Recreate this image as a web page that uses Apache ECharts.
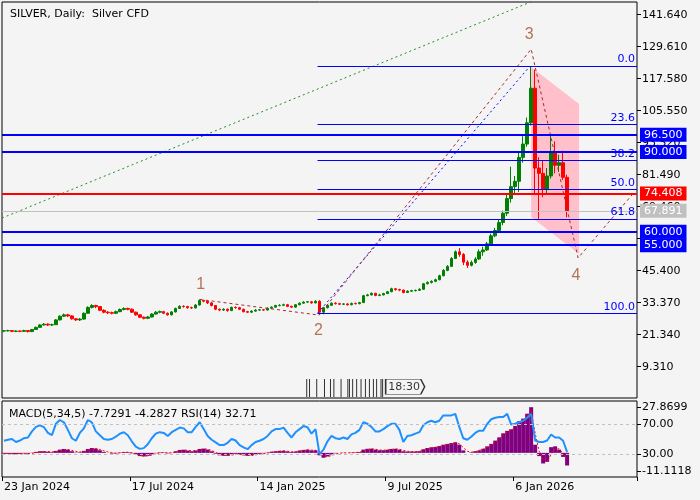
<!DOCTYPE html>
<html><head><meta charset="utf-8">
<script src="https://cdn.jsdelivr.net/npm/echarts@6/dist/echarts.min.js"></script>
<style>html,body{margin:0;padding:0;background:#f4f4f4;}#c{width:700px;height:500px;}</style>
</head><body><div id="c"></div>
<script>
// ---------- data ----------
const tickLabels = ['23 Jan 2024','17 Jul 2024','14 Jan 2025','9 Jul 2025','6 Jan 2026'];
const slotCount = 159; // 4-day bars incl. empty right margin
const yTickValues = [9.31,21.34,33.37,45.40,57.43,69.46,81.49,93.52,105.55,117.58,129.61,141.64];
const macdTicks = [-11.1118, 27.8699];
const rsiTicks = [30, 70];

const opens = [22.7,22.8,22.9,22.6,22.7,22.6,22.9,22.5,23.3,24.1,
25.0,25.3,25.0,25.1,26.9,28.3,28.8,28.4,27.3,26.9,
27.2,29.4,31.6,32.3,31.9,30.5,29.8,29.6,29.4,30.0,
30.8,31.2,30.9,29.8,28.8,27.9,27.5,28.0,29.1,29.8,
30.0,29.4,28.8,29.9,31.2,32.0,31.9,31.5,31.4,32.5,
34.2,33.9,33.3,32.3,30.9,30.6,30.9,30.4,31.6,31.5,
30.9,30.0,29.8,30.2,30.6,30.7,30.6,31.3,31.7,32.3,
32.4,32.6,32.0,31.7,32.6,33.2,33.6,33.7,33.3,33.9,
29.8,31.5,32.4,33.2,33.0,32.8,32.9,32.6,33.1,33.0,
33.4,36.0,36.3,36.9,36.1,36.3,36.8,37.5,38.6,38.3,
38.1,37.2,37.7,37.9,38.0,38.4,40.5,41.0,41.4,42.0,
43.5,45.5,47.0,50.0,52.5,51.5,48.6,47.4,48.5,49.8,
52.5,53.2,55.5,58.5,60.5,63.5,67.0,72.5,77.0,79.0,
88.0,93.0,101.0,114.0,84.0,82.0,76.0,81.0,90.0,85.0,
86.0,80.5];
const closes = [22.8,22.9,22.6,22.7,22.6,22.9,22.5,23.3,24.1,25.0,
25.3,25.0,25.1,26.9,28.3,28.8,28.4,27.3,26.9,27.2,
29.4,31.6,32.3,31.9,30.5,29.8,29.6,29.4,30.0,30.8,
31.2,30.9,29.8,28.8,27.9,27.5,28.0,29.1,29.8,30.0,
29.4,28.8,29.9,31.2,32.0,31.9,31.5,31.4,32.5,34.2,
33.9,33.3,32.3,30.9,30.6,30.9,30.4,31.6,31.5,30.9,
30.0,29.8,30.2,30.6,30.7,30.6,31.3,31.7,32.3,32.4,
32.6,32.0,31.7,32.6,33.2,33.6,33.7,33.3,33.9,29.8,
31.5,32.4,33.2,33.0,32.8,32.9,32.6,33.1,33.0,33.4,
36.0,36.3,36.9,36.1,36.3,36.8,37.5,38.6,38.3,38.1,
37.2,37.7,37.9,38.0,38.4,40.5,41.0,41.4,42.0,43.5,
45.5,47.0,50.0,52.5,51.5,48.6,47.4,48.5,49.8,52.5,
53.2,55.5,58.5,60.5,63.5,67.0,72.5,77.0,79.0,88.0,
93.0,101.0,114.0,84.0,82.0,76.0,81.0,90.0,85.0,86.0,
80.5,67.9];
const lows = [22.3,22.5,22.3,22.3,22.3,22.4,22.2,22.3,23.1,23.9,
24.8,24.6,24.6,25.0,26.7,28.0,28.0,27.0,26.5,26.5,
27.0,29.2,31.2,31.3,30.2,29.4,29.1,29.0,29.1,29.8,
30.5,30.5,29.5,28.5,27.6,27.1,27.2,27.8,28.9,29.4,
29.1,28.5,28.6,29.7,31.0,31.5,31.1,31.0,31.2,32.3,
33.5,32.9,32.0,30.6,30.2,30.3,30.0,30.2,31.1,30.6,
29.7,29.5,29.5,30.0,30.3,30.3,30.4,31.0,31.5,32.0,
32.1,31.7,31.4,31.5,32.4,33.0,33.3,33.0,33.1,29.5,
29.0,31.2,32.2,32.7,32.5,32.5,32.3,32.4,32.7,32.8,
33.3,35.8,36.1,35.8,35.8,36.1,36.6,37.3,37.9,37.7,
36.9,37.0,37.4,37.6,37.8,38.2,40.2,40.6,41.1,41.8,
43.3,45.2,46.8,49.8,50.6,47.5,46.4,47.0,48.0,49.5,
51.0,52.8,55.0,58.0,60.0,62.5,66.0,71.0,74.5,75.0,
86.0,92.0,100.0,74.0,64.5,73.0,74.5,80.0,82.0,82.5,
79.5,65.5];
const highs = [23.1,23.2,23.1,23.0,23.0,23.2,23.1,23.5,24.4,25.3,
25.7,25.6,25.5,27.2,28.6,29.3,29.2,28.7,27.6,27.6,
29.7,32.0,32.8,32.6,32.1,30.9,30.2,30.0,30.4,31.2,
31.6,31.5,31.2,30.0,29.1,28.2,28.4,29.4,30.2,30.4,
30.3,29.7,30.2,31.5,32.4,32.4,32.2,31.9,32.8,34.6,
34.5,34.2,33.6,32.5,31.2,31.3,31.2,31.9,32.0,31.8,
31.1,30.3,30.5,30.9,31.0,31.0,31.6,32.0,32.6,32.8,
33.0,32.9,32.2,32.9,33.5,33.9,34.0,34.0,34.3,34.3,
31.8,32.7,33.5,33.5,33.3,33.2,33.2,33.4,33.4,33.7,
36.3,36.7,37.2,37.1,36.7,37.1,37.8,39.0,38.9,38.6,
38.3,38.0,38.2,38.3,38.8,40.8,41.4,41.8,42.4,43.9,
46.0,47.5,50.5,53.0,53.9,52.0,49.3,49.2,50.5,53.4,
54.4,56.2,59.3,61.5,64.5,68.0,74.0,84.5,81.0,90.0,
96.0,103.0,122.3,121.0,88.0,87.0,84.0,96.4,94.0,89.0,
90.5,81.5];

const rsiValues = [47.7,49,50,46,48,51,52,60,66,68,
65.5,58,55,70,75,72,62,51,47.7,58,
64,75,72,60,55,50,49,50,53,57,
58.8,55,47,40,37,38,43,51,57,59,
58,54,59,62,65,64,59,59,66,72,
63,54,49,45.5,42,42,45,50,48,42,
39,36.6,42,46,47.7,50,54,60,63,63,
65,58,52,58.8,63,67,65.5,57,63,30,
36,47,54,51,50,52,50,56,58,62,
72,70,66,60,60,63,67,70,70,62,
46,54,55,57,59,68,72,74,72,74,
81,81,81,83,66,51,49,53,58,61,
61,70,76,78,79,79,83,69,70,72,
74,78,83,48,46,46,48,56,52,52,
47.7,32.71];
const macdHist = [-0.5,-0.6,-0.6,-0.7,-0.6,-0.4,-0.5,0.1,0.6,1.0,
1.0,0.7,0.4,1.2,2.0,2.4,2.0,1.0,0.2,0.3,
1.2,2.4,3.0,2.6,1.6,0.6,0.0,-0.4,-0.3,0.2,
0.5,0.4,-0.3,-1.2,-2.0,-2.2,-1.8,-1.0,-0.2,0.3,
0.2,-0.3,0.1,1.0,1.8,1.9,1.4,1.0,1.5,2.4,
2.6,2.0,1.0,-0.5,-1.5,-1.8,-1.8,-1.0,-0.6,-0.9,
-1.5,-1.8,-1.5,-1.0,-0.6,-0.3,0.2,0.7,1.0,1.2,
1.3,0.9,0.5,0.8,1.4,1.8,2.0,1.5,1.6,-1.5,
-3.0,-2.2,-1.0,-0.3,0.0,0.1,0.0,0.2,0.3,0.5,
2.0,2.5,2.6,2.0,1.6,1.6,1.9,2.4,2.5,2.0,
1.0,0.8,0.8,0.8,1.0,2.2,3.0,3.4,3.6,4.2,
5.0,5.5,6.0,6.5,5.0,1.5,0.0,0.3,1.0,1.5,
2.5,4.0,5.5,7.5,9.5,12.0,13.5,14.5,16.5,19.5,
21.0,24.0,28.0,5.0,-2.0,-6.5,-5.5,3.5,4.0,2.0,
-2.5,-7.7291];
const macdSignal = [-0.4,-0.5,-0.6,-0.6,-0.6,-0.5,-0.5,-0.3,0.1,0.5,
0.8,0.8,0.6,0.8,1.3,1.9,2.0,1.5,0.9,0.5,
0.8,1.6,2.4,2.6,2.1,1.3,0.6,0.1,-0.2,0.0,
0.3,0.4,0.1,-0.6,-1.4,-1.9,-1.9,-1.4,-0.6,0.0,
0.2,0.0,0.0,0.5,1.3,1.7,1.6,1.3,1.3,1.9,
2.4,2.2,1.5,0.3,-0.8,-1.5,-1.7,-1.4,-0.9,-0.8,
-1.2,-1.6,-1.6,-1.2,-0.8,-0.5,-0.1,0.4,0.8,1.0,
1.2,1.0,0.7,0.7,1.1,1.5,1.8,1.7,1.6,0.2,
-2.0,-2.4,-1.6,-0.7,-0.2,0.0,0.0,0.1,0.2,0.4,
1.2,2.0,2.4,2.2,1.8,1.6,1.8,2.1,2.4,2.2,
1.5,1.0,0.8,0.8,0.9,1.6,2.5,3.1,3.4,3.9,
4.5,5.1,5.6,6.2,5.6,3.3,1.0,0.4,0.7,1.6,
2.3,3.4,4.8,6.5,8.5,10.8,12.8,14.0,15.5,18.0,
20.0,22.5,26.0,12.0,1.0,-4.0,-5.5,-1.0,2.5,2.5,
-0.5,-4.2827];

// horizontal levels
const levelValues = [96.5, 90.0, 74.408, 67.891, 60.0, 55.0];
// fibonacci retracement
const fibLabels = ['0.0','23.6','38.2','50.0','61.8','100.0'];
const fibPrices = [122.35, 100.41, 86.84, 75.86, 64.89, 29.38];
const fibStartSlot = 78.5;
const fibTrend = [[78.5, 29.38],[131.75, 122.35]];
// elliott wave path and labels
const wavePath = [[49, 34.6],[78.9, 28.7],[132, 128.7],[143.75, 50.2],[158, 75.2]];
const waveLabels = ['1','2','3','4'];
const waveLabelPos = [[49.25, 40.0],[78.75, 22.7],[131.5, 134.0],[143.2, 43.5]];
// green trend line
const greenTrend = [[-0.5, 65.2],[132.5, 146.8]];
// pink channel
const channelCorners = [[132, 122.0],[144, 108.1],[144, 51.7],[132, 65.6]];
// event markers
const eventSlots = [75.8,76.5,78.3,80.25,81.75,82.6,84.4,86.1,86.5,87.3,88.3,89.4,90.5,91.5,92.5,93.3,94.4,94.8];
const eventTime = '18:30';
const eventTimeSlot = 100.45;

// ---------- build ----------
const FONT = 'DejaVu Sans';
const slots = Array.from({length: slotCount}, (_, i) => String(i));
const candleData = closes.map((c, i) => [opens[i], c, lows[i], highs[i]]);
const levelColors = ['#0000ff','#0000ff','#ff0000','#c0c0c0','#0000ff','#0000ff'];
const levelWidths = [2,2,2,1,2,2];
const fibLine = {color: '#0000ff', width: 1, type: 'solid', opacity: 1};

const chart = echarts.init(document.getElementById('c'), null, {renderer: 'canvas'});
const txt = {fontFamily: FONT, fontSize: 11, color: '#000'};
const noLine = {show: false, onZero: false};

chart.setOption({
  animation: false,
  backgroundColor: '#f4f4f4',
  textStyle: {fontFamily: FONT},
  title: [
    {text: 'SILVER, Daily:  Silver CFD', left: 5, top: 4, textStyle: Object.assign({fontWeight: 'normal'}, txt)},
    {text: 'MACD(5,34,5) -7.7291 -4.2827 RSI(14) 32.71', left: 4, top: 404, textStyle: Object.assign({fontWeight: 'normal'}, txt)}
  ],
  grid: [
    {left: 2, top: 2, width: 635, height: 396, show: true, borderColor: '#000', borderWidth: 1, backgroundColor: '#f4f4f4'},
    {left: 2, top: 401, width: 635, height: 76, show: true, borderColor: '#000', borderWidth: 1, backgroundColor: '#f4f4f4'}
  ],
  xAxis: [
    {type: 'category', gridIndex: 0, data: slots, show: false, boundaryGap: true, axisLine: noLine},
    {type: 'category', gridIndex: 1, data: slots, boundaryGap: true,
      axisLine: noLine,
      axisTick: {show: true, interval: 31, length: 4, lineStyle: {color: '#000'}},
      axisLabel: Object.assign({interval: 31, align: 'left', margin: 5,
        formatter: (v, i) => tickLabels[i / 32] || ''}, txt),
      splitLine: {show: false}},
    {type: 'value', gridIndex: 0, min: -0.5, max: slotCount - 0.5, show: false, axisLine: noLine, splitLine: {show: false}}
  ],
  yAxis: [
    {type: 'value', gridIndex: 0, position: 'right', min: -2.46, max: 146.41, scale: true,
      axisLine: noLine,
      axisTick: {show: true, length: 4, customValues: yTickValues, lineStyle: {color: '#000'}},
      axisLabel: Object.assign({customValues: yTickValues, margin: 5, formatter: v => v.toFixed(3)}, txt),
      splitLine: {show: false}},
    {type: 'value', gridIndex: 1, position: 'right', min: -14.8, max: 31.8, scale: true,
      axisLine: noLine,
      axisTick: {show: true, length: 4, customValues: macdTicks, lineStyle: {color: '#000'}},
      axisLabel: Object.assign({customValues: macdTicks, margin: 5, formatter: v => v.toFixed(4)}, txt),
      splitLine: {show: false}},
    {type: 'value', gridIndex: 1, position: 'right', min: 0, max: 100,
      axisLine: noLine,
      axisTick: {show: true, length: 4, customValues: rsiTicks, lineStyle: {color: '#000'}},
      axisLabel: Object.assign({customValues: rsiTicks, margin: 5, formatter: v => v.toFixed(2)}, txt),
      splitLine: {show: false}}
  ],
  series: [
    {type: 'custom', xAxisIndex: 2, yAxisIndex: 0, z: 1, silent: true, data: channelCorners,
      renderItem: (params, api) => {
        if (params.dataIndex !== 0) return null;
        return {type: 'polygon', shape: {points: channelCorners.map(p => api.coord(p))}, style: {fill: '#ffc0cb'}};
      }},
    {type: 'line', xAxisIndex: 2, yAxisIndex: 0, data: greenTrend, symbol: 'none', silent: true, z: 2,
      lineStyle: {color: '#1f8f1f', width: 1, type: [2, 3]}},
    {type: 'candlestick', xAxisIndex: 0, yAxisIndex: 0, data: candleData, barWidth: 3, z: 3,
      itemStyle: {color: '#008000', color0: '#ff0000', borderColor: '#008000', borderColor0: '#ff0000', borderWidth: 1},
      markLine: {silent: true, symbol: ['none', 'none'], animation: false,
        data: levelValues.map((v, i) => ({
          name: v.toFixed(3),
          yAxis: v,
          lineStyle: {color: levelColors[i], width: levelWidths[i], type: 'solid'},
          label: {show: true, position: 'end', distance: 3, formatter: '{b}',
            backgroundColor: levelColors[i], color: '#fff', fontFamily: FONT, fontSize: 11,
            padding: [2, 4, 1, 4], lineHeight: 11}
        }))}},
    {type: 'line', xAxisIndex: 2, yAxisIndex: 0, data: fibTrend, symbol: 'none', silent: true, z: 4,
      itemStyle: {color: '#0000ff'},
      lineStyle: {color: '#0000ff', width: 1, type: [2, 3]},
      markLine: {silent: true, symbol: ['none', 'none'], animation: false,
        lineStyle: fibLine,
        data: fibPrices.map((p, i) => [
          {name: fibLabels[i], coord: [fibStartSlot, p], lineStyle: fibLine,
            label: {show: true, position: 'insideEndTop', distance: [2, 1], formatter: '{b}',
              color: '#0000ff', fontFamily: FONT, fontSize: 11}},
          {coord: [slotCount - 0.5, p], lineStyle: fibLine}
        ])}},
    {type: 'line', xAxisIndex: 2, yAxisIndex: 0, data: wavePath, symbol: 'none', silent: true, z: 4,
      lineStyle: {color: '#a52a2a', width: 1, type: [3, 3]}},
    {type: 'scatter', xAxisIndex: 2, yAxisIndex: 0, data: waveLabelPos, symbolSize: 1, silent: true, z: 6,
      itemStyle: {color: 'rgba(0,0,0,0)'},
      label: {show: true, position: 'inside', formatter: p => waveLabels[p.dataIndex],
        color: '#a0522d', fontFamily: 'Liberation Sans', fontSize: 16}},
    {type: 'scatter', xAxisIndex: 2, yAxisIndex: 0, data: eventSlots.map(s => [s, 1.3]), silent: true, z: 6,
      symbol: 'rect', symbolSize: [1, 18], itemStyle: {color: '#000'}},
    {type: 'scatter', xAxisIndex: 2, yAxisIndex: 0, data: [[eventTimeSlot, 1.75]], silent: true, z: 6,
      symbol: 'path://M0,0L36,0L40,7L36,14L0,14Z', symbolKeepAspect: false, symbolSize: [39, 15],
      itemStyle: {color: 'rgba(0,0,0,0)', borderColor: '#000', borderWidth: 1},
      label: {show: true, position: 'inside', formatter: eventTime, color: '#000', fontFamily: FONT, fontSize: 11, offset: [-1, 0]}},
    {type: 'bar', xAxisIndex: 1, yAxisIndex: 1, data: macdHist, barCategoryGap: '0%', silent: true, z: 2,
      itemStyle: {color: '#800080'}},
    {type: 'line', xAxisIndex: 1, yAxisIndex: 1, data: macdSignal, symbol: 'none', silent: true, z: 3,
      lineStyle: {color: '#ff0000', width: 1, type: [2, 2]}},
    {type: 'line', xAxisIndex: 1, yAxisIndex: 2, data: rsiValues, symbol: 'none', silent: true, z: 4,
      lineStyle: {color: '#1e90ff', width: 2},
      markLine: {silent: true, symbol: ['none', 'none'], animation: false, label: {show: false},
        lineStyle: {color: '#c0c0c0', width: 1, type: [3, 3]},
        data: rsiTicks.map(v => ({yAxis: v}))}}
  ]
});
</script>
</body></html>
